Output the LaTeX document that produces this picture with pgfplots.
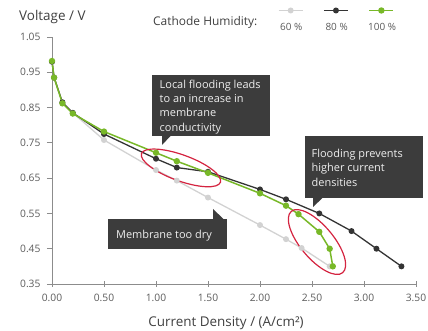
\documentclass[border=0pt]{standalone}
\usepackage{pgfplots}
\pgfplotsset{compat=1.18}
\usepackage{fontspec}
\setmainfont{Open Sans}

\definecolor{hum60}{RGB}{210,210,210}
\definecolor{hum80}{RGB}{52,52,52}
\definecolor{hum100}{RGB}{120,184,40}
\definecolor{calloutbg}{RGB}{60,60,60}
\definecolor{calloutfg}{RGB}{238,238,238}
\definecolor{ringred}{RGB}{212,36,64}
\definecolor{axisgray}{RGB}{140,140,140}
\definecolor{labelgray}{RGB}{64,64,64}
\definecolor{tickgray}{RGB}{90,90,90}

\begin{document}
\begin{tikzpicture}[x=1bp,y=1bp]
\useasboundingbox (0,0) rectangle (428,331);

\begin{axis}[
  at={(52bp,47bp)}, anchor=south west,
  scale only axis, width=364bp, height=247bp,
  xmin=0, xmax=3.5, ymin=0.35, ymax=1.05,
  clip=false,
  axis x line*=bottom, axis y line*=left,
  axis line style={axisgray, line width=0.8bp},
  tick style={axisgray, line width=0.8bp},
  major tick length=5bp,
  xtick align=center, ytick align=outside,
  xtick={0,0.5,1,1.5,2,2.5,3,3.5},
  ytick={0.35,0.45,0.55,0.65,0.75,0.85,0.95,1.05},
  /pgf/number format/assume math mode=true,
  tick label style={font=\fontsize{10.3}{12}\selectfont, text=tickgray},
  xticklabel style={yshift=-4bp, /pgf/number format/fixed, /pgf/number format/fixed zerofill, /pgf/number format/precision=2},
  yticklabel style={xshift=-3bp, /pgf/number format/fixed, /pgf/number format/fixed zerofill, /pgf/number format/precision=2},
  legend columns=3,
  legend style={at={(axis description cs:0.5962,1.0385)}, anchor=west,
    draw=none, fill=none, inner sep=0pt, outer sep=0pt,
    font=\fontsize{10}{12}\selectfont, text=tickgray,
    nodes={inner sep=0pt}, column sep=0pt,
    /tikz/every even column/.append style={column sep=2bp}},
  legend image code/.code={
    \path (0bp,0bp);
    \draw[mark repeat=2, mark phase=2, #1, overlay]
      plot coordinates {(9bp,17bp) (21bp,17bp) (33bp,17bp)};
  },
]

% 60 % cathode humidity
\addplot[hum60, line width=1.3bp, mark=*, mark size=2.3bp,
  mark options={fill=hum60, draw=hum60}] coordinates {
  (0,0.98) (0.02,0.935) (0.1,0.865) (0.2,0.835) (0.5,0.758)
  (1.0,0.673) (1.2,0.643) (1.5,0.595) (2.0,0.517) (2.25,0.477)
  (2.4,0.452) (2.67,0.40)};
\addlegendentry{\makebox[42bp]{60 \%}}

% 80 % cathode humidity
\addplot[hum80, line width=1.3bp, mark=*, mark size=2.3bp,
  mark options={fill=hum80, draw=hum80}] coordinates {
  (0,0.98) (0.02,0.935) (0.1,0.865) (0.2,0.835) (0.5,0.775)
  (1.0,0.705) (1.2,0.68) (1.5,0.668) (2.0,0.618) (2.25,0.59)
  (2.57,0.55) (2.88,0.50) (3.12,0.45) (3.36,0.40)};
\addlegendentry{\makebox[42bp]{80 \%}}

% 100 % cathode humidity
\addplot[hum100, line width=1.5bp, mark=*, mark size=2.4bp,
  mark options={fill=hum100, draw=hum100}] coordinates {
  (0,0.982) (0.02,0.935) (0.1,0.862) (0.2,0.833) (0.5,0.782)
  (1.0,0.722) (1.2,0.698) (1.5,0.665) (2.0,0.607) (2.25,0.572)
  (2.37,0.548) (2.57,0.498) (2.67,0.45) (2.7,0.40)};
\addlegendentry{\makebox[42bp]{100 \%}}

% highlighted regions
\draw[ringred, line width=1.2bp, rotate around={-20:(axis cs:1.24,0.679)}]
  (axis cs:1.24,0.679) ellipse [x radius=42bp, y radius=13bp];
\draw[ringred, line width=1.2bp, rotate around={-50:(axis cs:2.548,0.469)}]
  (axis cs:2.548,0.469) ellipse [x radius=40bp, y radius=16.5bp];
\end{axis}

% titles
\node[anchor=base west, inner sep=0pt, text=labelgray,
  font=\fontsize{13.5}{16}\selectfont] at (19,311) {Voltage / V};
\node[anchor=base west, inner sep=0pt, text=labelgray,
  font=\fontsize{12}{14}\selectfont] at (153,306) {Cathode Humidity:};
\node[anchor=base, inner sep=0pt, text=labelgray,
  font=\fontsize{13.5}{16}\selectfont] at (226,5) {Current Density / (A/cm²)};

% callouts
\begin{scope}[every node/.style={anchor=base west, inner sep=0pt,
    text=calloutfg, font=\fontsize{11}{13}\selectfont}]
  \fill[calloutbg] (152,195) rectangle (270,256);
  \fill[calloutbg] (162,195.5) -- (171,195.5) -- (162,186) -- cycle;
  \node at (159.5,242.5) {Local flooding leads};
  \node at (159.5,228.2) {to an increase in};
  \node at (159.5,214.2) {membrane};
  \node at (159.5,199.8) {conductivity};

  \fill[calloutbg] (305,133) rectangle (423,195);
  \fill[calloutbg] (313,133.5) -- (323,133.5) -- (313,124) -- cycle;
  \node at (311.5,173.5) {Flooding prevents};
  \node at (311.5,159.2) {higher current};
  \node at (311.5,145) {densities};

  \fill[calloutbg] (108,82) rectangle (227,112);
  \fill[calloutbg] (213,111.5) -- (224,111.5) -- (213,122) -- cycle;
  \node at (116,92.5) {Membrane too dry};
\end{scope}
\end{tikzpicture}
\end{document}
